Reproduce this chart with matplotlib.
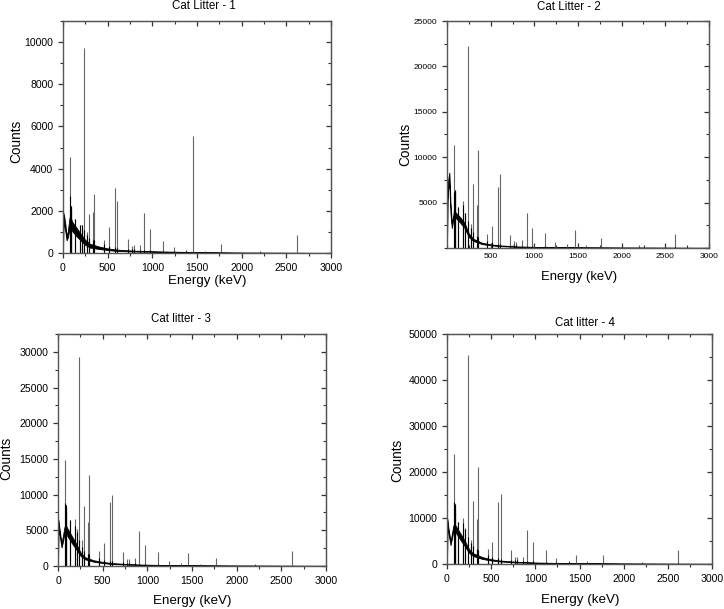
import numpy as np
import matplotlib
matplotlib.use("Agg")
import matplotlib.pyplot as plt
from matplotlib.ticker import MultipleLocator, FixedLocator

plt.rcParams["font.family"] = ["Liberation Sans", "DejaVu Sans"]

# gamma lines (keV) shared by all four spectra
peak_energy = [75, 87, 93, 130, 186, 209, 238, 270, 295, 338, 352, 463, 511,
               583, 609, 727, 768, 795, 860, 911, 969, 1120, 1238, 1377, 1460,
               1588, 1764, 2204, 2614]

peaks_1 = [4550, 2250, 2100, 1600, 1350, 1350, 9700, 1000, 1860, 1950, 2800, 630, 1230,
           3100, 2470, 660, 350, 380, 400, 1890, 1130, 570, 290, 150, 5540,
           110, 410, 90, 870]
peaks_2 = [11300, 6400, 6200, 4500, 5200, 3800, 22200, 2600, 7100, 4700, 10800, 1500, 2400,
           6700, 8200, 1430, 800, 700, 850, 3850, 2250, 1650, 620, 450, 1950,
           350, 1100, 300, 1580]
peaks_3 = [14800, 8500, 7700, 6400, 6600, 5200, 29300, 3600, 8450, 6200, 12750, 2160, 3200,
           8900, 9900, 1920, 950, 1000, 1100, 4900, 2900, 1970, 700, 450, 1830,
           350, 1130, 300, 2100]
peaks_4 = [24000, 13000, 11800, 9200, 10000, 7800, 45500, 5300, 13700, 9800, 21100, 3250, 4700,
           13500, 15300, 3000, 1500, 1600, 1500, 7400, 4700, 3100, 1200, 700, 2000,
           600, 1900, 450, 3000]

# continuum band (lower / upper envelope of the noisy background)
cont_energy = [0, 5, 15, 27, 40, 55, 70, 80, 100, 150, 200, 250, 300, 400, 500,
               600, 800, 1000, 1200, 1500, 2000, 2500, 3000]
cont_lo_1 = [0, 1600, 1300, 1000, 600, 750, 1100, 1300, 1050, 800, 580, 380, 260, 190, 140,
             100, 70, 55, 40, 22, 10, 6, 3]
cont_hi_1 = [0, 1900, 1700, 1350, 800, 1050, 1600, 1800, 1500, 1200, 900, 620, 440, 310, 220,
             160, 110, 85, 65, 40, 20, 14, 8]
cont_lo_2 = [0, 5200, 6500, 7000, 3800, 2200, 3000, 3600, 3300, 2800, 2200, 1200, 780, 430, 300,
             210, 125, 80, 65, 48, 30, 22, 14]
cont_hi_2 = [0, 6000, 7600, 8300, 5000, 2700, 3500, 4200, 3900, 3400, 2800, 1600, 1020, 580, 400,
             290, 175, 120, 95, 72, 50, 38, 26]
cont_lo_3 = [0, 5900, 4600, 3600, 2600, 3400, 4400, 4800, 4300, 3300, 2400, 1450, 950, 600, 420,
             290, 180, 120, 90, 62, 38, 26, 18]
cont_hi_3 = [0, 6500, 5400, 4300, 3200, 4200, 5300, 5800, 5400, 4300, 3200, 1950, 1250, 800, 580,
             410, 260, 180, 135, 98, 62, 44, 32]
cont_lo_4 = [0, 9000, 7000, 5500, 4100, 5500, 7000, 7400, 6800, 5300, 3900, 2400, 1700, 1100, 760,
             550, 330, 230, 165, 120, 70, 45, 30]
cont_hi_4 = [0, 9800, 8000, 6500, 5000, 6500, 8200, 8700, 8300, 6700, 5100, 3200, 2300, 1500, 1040,
             750, 470, 330, 240, 180, 110, 75, 50]

titles = ["Cat Litter - 1", "Cat Litter - 2", "Cat litter - 3", "Cat litter - 4"]

W, H = 724, 609
fig = plt.figure(figsize=(W / 100, H / 100), dpi=100)


def px_axes(l, t, r, b):
    return fig.add_axes([l / W, 1 - b / H, (r - l) / W, (b - t) / H])


def spectrum(ax, lo, hi, peaks, ymax, ymajor, yminor, tick_fs, bottom_dir="out"):
    ax.fill_between(cont_energy, lo, hi, color="black", lw=0.6, edgecolor="black")
    ax.vlines(peak_energy, 0, peaks, color="#666666", lw=0.8)
    ax.vlines(peak_energy, 0, np.minimum(peaks, np.interp(peak_energy, cont_energy, hi) * 1.6),
              color="black", lw=0.8)
    ax.set_xlim(0, 3000)
    ax.set_ylim(0, ymax)
    ax.xaxis.set_major_locator(MultipleLocator(500))
    ax.xaxis.set_minor_locator(MultipleLocator(250))
    ax.yaxis.set_major_locator(MultipleLocator(ymajor))
    ax.yaxis.set_minor_locator(MultipleLocator(yminor))
    ax.tick_params(axis="y", which="both", direction="out", labelsize=tick_fs, colors="#333333",
                   labelcolor="black")
    ax.tick_params(axis="x", which="both", direction=bottom_dir, labelsize=tick_fs,
                   colors="#333333", labelcolor="black")
    ax.tick_params(which="major", length=3.5, width=0.9)
    ax.tick_params(which="minor", length=2, width=0.8)
    for s in ax.spines.values():
        s.set_color("#555555")
        s.set_linewidth(1.0)
    top = ax.secondary_xaxis("top")
    top.xaxis.set_major_locator(MultipleLocator(500))
    top.xaxis.set_minor_locator(MultipleLocator(250))
    top.tick_params(which="both", direction="in", labeltop=False, colors="#333333")
    top.tick_params(which="major", length=3.5, width=0.9)
    top.tick_params(which="minor", length=2, width=0.8)
    right = ax.secondary_yaxis("right")
    right.yaxis.set_major_locator(MultipleLocator(ymajor))
    right.yaxis.set_minor_locator(MultipleLocator(yminor))
    right.tick_params(which="both", direction="in", labelright=False, colors="#333333")
    right.tick_params(which="major", length=3.5, width=0.9)
    right.tick_params(which="minor", length=2, width=0.8)
    for sa in (top, right):
        for s in sa.spines.values():
            s.set_color("#555555")


def label(x, y, text, size, rot=0):
    fig.text(x / W, 1 - y / H, text, fontsize=size, rotation=rot, ha="center", va="center")


# panel 1
ax1 = px_axes(63, 21, 331, 253)
spectrum(ax1, cont_lo_1, cont_hi_1, peaks_1, 11000, 2000, 1000, 7.6)
label(204, 6, titles[0], 8.3)
label(207, 281, "Energy (keV)", 9.6)
label(16, 141, "Counts", 9.8, 90)

# panel 2
ax2 = px_axes(447, 21, 709, 248)
spectrum(ax2, cont_lo_2, cont_hi_2, peaks_2, 25000, 5000, 2500, 6.0, bottom_dir="in")
ax2.yaxis.set_major_locator(FixedLocator([5000, 10000, 15000, 20000, 25000]))
ax2.xaxis.set_major_locator(FixedLocator([500, 1000, 1500, 2000, 2500, 3000]))
label(569, 7, titles[1], 8.3)
label(579, 277, "Energy (keV)", 9.4)
label(405, 144, "Counts", 9.8, 90)

# panel 3
ax3 = px_axes(58, 334, 326, 566)
spectrum(ax3, cont_lo_3, cont_hi_3, peaks_3, 32500, 5000, 2500, 7.6)
label(181, 319, titles[2], 8.3)
label(192, 601, "Energy (keV)", 9.6)
label(6, 458, "Counts", 9.8, 90)

# panel 4
ax4 = px_axes(447, 334, 712, 564)
spectrum(ax4, cont_lo_4, cont_hi_4, peaks_4, 50000, 10000, 5000, 7.6)
label(585, 323, titles[3], 8.3)
label(580, 600, "Energy (keV)", 9.6)
label(397, 460, "Counts", 9.8, 90)

fig.savefig("out.png", dpi=100)
